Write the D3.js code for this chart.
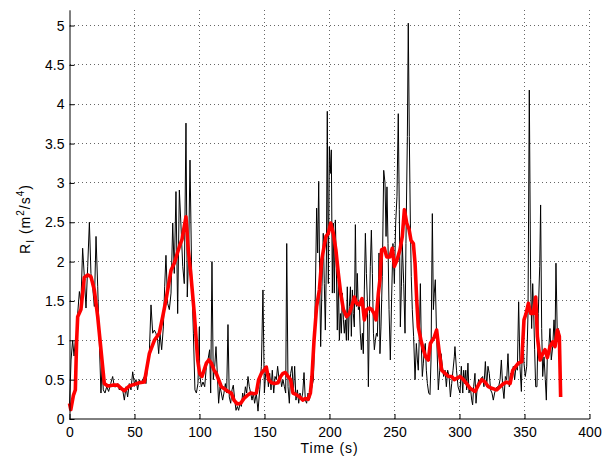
<!DOCTYPE html>
<html><head><meta charset="utf-8">
<script src="https://cdn.jsdelivr.net/npm/d3@7"></script>
<style>
body{margin:0;background:#fff}
text{font-family:"Liberation Sans",Arial,Helvetica,sans-serif;fill:#000}
</style>
</head><body>
<svg id="chart" width="605" height="457"></svg>
<script>
// ---- data ----
const xTicks = [0, 50, 100, 150, 200, 250, 300, 350, 400];
const yTicks = [0, 0.5, 1, 1.5, 2, 2.5, 3, 3.5, 4, 4.5, 5];
const xLabel = "Time (s)";

// raw signal: [time (s), R_I]
const rawSignal = [
[0,0.16],[1.2,0.75],[2.4,1.0],[3.5,0.8],[4.5,1.0],[5.4,0.9],[6.3,1.34],[7.6,1.62],[8.8,1.47],[10.1,2.17],[11.4,1.81],[12.7,1.41],[14.0,1.94],[15.3,2.5],[16.5,1.85],[17.8,1.68],[19.1,1.43],[20.4,2.32],[21.7,1.68],[22.9,1.0],[24.2,0.33],[25.0,0.67],[26.0,0.37],[27.3,0.33],[28.6,0.41],[30.1,0.35],[31.7,0.45],[33.2,0.54],[34.5,0.41],[35.8,0.41],[37.1,0.45],[38.3,0.37],[39.6,0.41],[40.9,0.37],[42.2,0.24],[43.5,0.41],[44.7,0.28],[46.0,0.45],[47.3,0.37],[48.6,0.6],[49.9,0.45],[51.2,0.5],[52.4,0.37],[53.7,0.5],[55.0,0.45],[56.3,0.5],[57.6,0.54],[58.8,0.45],[60.1,0.67],[61.4,0.83],[62.7,1.45],[64.0,1.09],[65.3,1.13],[66.5,1.09],[67.8,1.0],[68.6,0.83],[69.6,1.09],[70.9,0.88],[72.2,1.17],[73.2,1.68],[74.2,2.08],[75.5,1.47],[76.8,1.39],[78.1,1.6],[79.4,2.49],[80.6,1.85],[81.9,2.89],[83.2,1.34],[84.5,2.91],[85.8,2.44],[87.1,1.94],[88.3,1.72],[89.6,3.76],[90.6,1.55],[91.7,2.15],[92.7,3.29],[94.0,1.81],[95.3,1.09],[96.5,0.37],[97.6,0.33],[98.8,0.45],[99.9,1.17],
[100.1,0.58],[101.4,0.41],[102.7,0.47],[104.0,0.41],[105.3,0.67],[106.5,0.75],[107.8,0.88],[108.6,0.33],[109.6,2.0],[110.6,0.5],[111.7,0.67],[112.7,0.92],[113.7,0.58],[114.7,0.2],[115.8,0.41],[116.8,0.33],[117.8,0.24],[118.8,0.33],[119.9,0.45],[120.9,0.33],[121.9,1.2],[122.9,0.28],[124.0,0.2],[125.0,0.37],[126.0,0.43],[127.1,0.24],[128.1,0.11],[129.1,0.16],[130.1,0.11],[131.2,0.2],[132.2,0.16],[133.2,0.33],[134.2,0.24],[135.3,0.41],[136.3,0.33],[137.3,0.54],[138.3,0.41],[139.4,0.33],[140.4,0.24],[141.4,0.33],[142.4,0.2],[143.7,0.33],[145.0,0.1],[146.3,0.37],[147.6,0.67],[148.8,1.64],[149.9,0.33],[150.9,0.58],[151.9,0.67],[153.0,0.41],[154.0,0.58],[155.0,0.37],[156.0,0.62],[157.1,0.33],[158.1,0.54],[159.1,0.5],[160.1,0.67],[161.2,0.5],[162.2,0.54],[163.2,0.41],[164.2,0.5],[165.3,0.41],[166.3,0.33],[167.1,2.23],[168.1,0.41],[169.1,0.2],[170.1,0.58],[171.2,0.67],[172.2,0.33],[173.2,0.67],[174.2,0.24],[175.3,0.37],[176.3,0.2],[177.3,0.33],[178.3,0.24],[179.4,0.33],[180.4,0.59],[181.4,0.24],[182.4,0.2],[183.5,0.33],[184.5,0.24],[185.5,0.33],[186.5,0.41],[187.6,0.5],
[188.6,1.09],[189.6,2.11],[190.1,2.68],[190.9,2.11],[191.7,3.02],[192.5,1.68],[193.2,0.92],[194.2,1.68],[195.2,2.36],[196.0,1.72],[196.8,1.13],[197.6,2.02],[198.3,3.91],[199.1,1.72],[199.9,3.46],[200.6,3.12],[201.4,3.42],[202.2,1.6],[202.9,2.49],[203.7,1.6],[204.5,2.53],[205.2,2.02],[206.0,1.13],[206.8,1.77],[207.6,1.0],[208.4,1.34],[209.1,1.09],[209.9,1.6],[210.7,1.26],[211.4,1.09],[212.2,1.26],[213.0,1.0],[213.7,1.68],[214.5,1.0],[215.3,1.43],[216.1,1.68],[216.8,1.05],[217.6,1.64],[218.3,1.34],[219.1,1.17],[219.9,2.47],[220.7,1.43],[221.4,1.85],[222.2,1.39],[223.0,1.43],[223.7,1.09],[224.5,0.88],[225.3,1.09],[226.0,0.83],[226.8,1.64],[227.6,2.36],[228.4,1.85],[229.1,1.51],[229.9,0.41],[230.7,1.34],[231.4,1.94],[232.2,2.4],[233.0,1.85],[233.8,1.09],[234.5,0.88],[235.3,1.0],[236.1,1.09],[236.8,1.05],[237.6,1.51],
[238.1,2.11],[238.8,0.83],[239.6,1.17],[240.6,1.81],[241.7,3.16],[242.7,3.0],[243.5,2.32],[244.2,2.95],[245.0,2.23],[245.8,1.39],[246.8,0.75],[247.8,1.55],[248.8,2.23],[249.9,1.72],[250.9,2.49],[251.9,2.83],[252.9,3.88],[253.7,2.66],[254.5,1.17],[255.3,1.68],[256.0,2.23],[257.1,1.72],[258.1,1.09],[258.8,2.23],[259.9,3.59],[260.6,5.03],[261.4,3.59],[262.2,2.49],[262.9,1.81],[263.7,1.39],[264.7,1.05],[265.8,0.5],[266.8,0.96],[267.6,0.75],[268.3,0.62],[269.1,1.05],[269.9,1.72],[270.6,0.96],[271.4,0.54],[272.2,0.71],[272.9,0.88],[273.7,0.96],[274.5,0.62],[275.3,0.45],[276.3,0.33],[277.3,0.31],[278.1,0.75],[279.1,2.61],[279.9,1.39],[280.6,1.6],[281.4,1.77],[282.2,1.17],[283.0,0.75],[283.7,0.37],[284.8,0.62],[285.8,0.83],[286.8,0.67],[287.8,0.54],[288.9,0.62],[289.9,0.41],[290.9,0.62],[292.0,0.54],[293.0,0.28],[294.0,0.45],[295.0,0.62],[296.0,0.79],[296.5,0.92],[297.7,0.62],[298.9,0.41],
[300.4,0.33],[301.4,0.67],[302.5,0.33],[303.2,0.62],[304.0,0.45],[304.8,0.62],[305.5,0.37],[306.5,0.71],[307.3,0.33],[308.3,0.41],[309.4,0.24],[310.1,0.18],[310.9,0.41],[311.9,0.58],[312.7,0.2],[313.7,0.41],[314.8,0.5],[315.8,0.47],[316.8,0.52],[317.8,0.54],[318.8,0.41],[319.9,0.73],[320.9,0.41],[321.9,0.67],[322.9,0.58],[323.9,0.37],[325.0,0.33],[326.0,0.24],[327.0,0.33],[328.1,0.39],[329.1,0.41],[330.1,0.41],[331.2,0.5],[332.2,0.75],[333.2,0.41],[334.2,0.26],[335.3,0.54],[336.3,0.5],[337.3,0.83],[338.3,0.41],[339.4,0.58],[340.4,0.54],[341.4,0.67],[342.4,0.5],[343.5,0.67],[344.5,0.62],[345.5,1.49],[346.5,0.67],[347.6,0.35],[348.6,1.19],[349.6,0.71],[350.6,0.54],[351.7,0.67],[352.7,1.34],[353.7,4.18],[354.7,1.77],[355.5,1.15],[356.3,1.72],[357.1,1.34],[357.8,0.88],[358.6,0.41],[359.6,0.41],[360.6,1.34],[361.7,1.94],[362.4,2.72],[363.2,1.15],[364.0,0.54],[365.0,0.79],[366.0,0.5],[366.8,0.24],[367.6,0.83],[368.6,0.88],[369.6,1.15],[370.6,0.75],[371.7,0.92],[372.7,1.26],[373.5,1.0],[374.2,1.98],[375.3,1.0],[376.0,1.15],[376.8,1.09],[377.6,0.58]
];

// smoothed signal: [time (s), R_I]
const smoothSignal = [
[0,0.2],[1,0.12],[3,0.3],[4.5,0.37],[5.5,1.0],[6.3,1.3],[8.8,1.39],[11.4,1.8],[14.0,1.83],[16.5,1.81],[19.1,1.64],[21.7,1.3],[24.2,0.88],[26.8,0.45],[29.4,0.42],[33.2,0.43],[37.1,0.43],[39.6,0.39],[42.2,0.36],[46.0,0.42],[49.9,0.44],[53.7,0.46],[57.6,0.47],[61.4,0.83],[65.3,1.0],[69.1,1.09],[71.7,1.3],[74.2,1.51],[78.1,1.89],[80.6,1.98],[84.5,2.19],[86.5,2.28],[89.6,2.57],[91.4,2.15],[93.5,1.81],[96.0,1.34],[98.6,0.75],[100.1,0.58],
[101.9,0.54],[103.5,0.62],[105.3,0.71],[107.1,0.75],[109.1,0.71],[111.2,0.62],[112.9,0.58],[114.7,0.5],[116.8,0.41],[119.4,0.38],[121.9,0.35],[124.5,0.33],[126.5,0.24],[129.1,0.19],[131.7,0.2],[134.2,0.26],[136.8,0.3],[139.4,0.33],[141.9,0.32],[143.7,0.33],[145.5,0.5],[147.6,0.58],[149.6,0.62],[151.4,0.66],[153.2,0.5],[155.3,0.46],[157.8,0.45],[160.4,0.46],[162.4,0.54],[164.2,0.58],[166.0,0.59],[168.1,0.54],[170.1,0.5],[171.9,0.33],[174.5,0.31],[177.1,0.28],[179.6,0.24],[181.4,0.26],[183.5,0.25],[185.3,0.33],[186.5,0.54],
[188.1,1.0],[190.1,1.43],[192.2,1.64],[194.0,2.02],[195.8,2.19],[197.3,2.32],[199.1,2.36],[200.9,2.49],[202.9,2.36],[204.9,2.15],[206.8,1.85],[208.6,1.6],[210.7,1.39],[213.2,1.3],[215.2,1.34],[217.1,1.43],[219.1,1.55],[220.9,1.47],[223.0,1.45],[225.0,1.53],[226.8,1.26],[228.6,1.39],[230.7,1.41],[232.5,1.39],[234.3,1.34],[235.8,1.26],[237.6,1.6],[238.8,1.77],
[240.1,2.15],[242.2,2.17],[244.0,2.06],[246.5,2.06],[248.3,2.17],[249.9,1.94],[251.9,2.02],[254.2,2.15],[256.0,2.32],[257.6,2.66],[259.4,2.49],[261.2,2.41],[262.7,2.27],[264.5,2.23],[265.8,1.98],[267.1,1.51],[268.3,1.17],[270.4,1.0],[272.2,0.88],[274.0,0.79],[276.0,0.75],[277.6,0.96],[279.1,1.0],[280.6,1.04],[282.4,1.13],[284.2,0.88],[286.3,0.62],[288.9,0.58],[291.5,0.54],[294.0,0.54],[296.0,0.5],
[300.4,0.54],[303.0,0.5],[305.5,0.45],[308.1,0.39],[312.0,0.35],[314.5,0.43],[317.1,0.5],[319.6,0.47],[322.2,0.41],[324.8,0.39],[328.6,0.37],[331.2,0.41],[333.8,0.45],[336.3,0.47],[338.9,0.45],[341.0,0.62],[342.8,0.66],[345.3,0.71],[347.9,0.73],[349.6,1.26],[351.2,1.34],[353.0,1.47],[354.8,1.34],[356.8,1.34],[358.6,1.55],[359.9,1.05],[362.0,0.75],[364.0,0.83],[365.8,0.88],[367.6,0.78],[369.6,0.92],[371.7,0.98],[373.5,0.92],[375.3,1.13],[376.8,1.05],[377.8,0.28]
];

// ---- drawing ----
const svg = d3.select("#chart");
const x = d3.scaleLinear().domain([0, 400]).range([69.5, 589.5]);
const y = d3.scaleLinear().domain([0, 5.2]).range([419, 9.8]);

// grid
const grid = svg.append("g").attr("stroke", "#666").attr("stroke-width", 1)
  .attr("stroke-dasharray", "1,3").attr("shape-rendering", "crispEdges");
grid.selectAll("line.v").data(xTicks.filter(d => d > 0)).join("line")
  .attr("x1", d => x(d)).attr("x2", d => x(d))
  .attr("y1", y(0)).attr("y2", y(5.2));
grid.selectAll("line.h").data(yTicks.filter(d => d > 0)).join("line")
  .attr("x1", x(0)).attr("x2", x(400))
  .attr("y1", d => y(d)).attr("y2", d => y(d));

// lines
const line = d3.line().x(d => x(d[0])).y(d => y(d[1]));
svg.append("path").datum(rawSignal).attr("d", line)
  .attr("fill", "none").attr("stroke", "#000").attr("stroke-width", 1).attr("stroke-linejoin", "round");
svg.append("path").datum(smoothSignal).attr("d", line)
  .attr("fill", "none").attr("stroke", "#ff0000").attr("stroke-width", 3.6)
  .attr("stroke-linejoin", "round").attr("stroke-linecap", "butt");

// axes
const fmt = d => String(d);
const xAxis = d3.axisBottom(x).tickValues(xTicks).tickFormat(fmt)
  .tickSizeInner(-5).tickSizeOuter(0).tickPadding(8);
const yAxis = d3.axisLeft(y).tickValues(yTicks).tickFormat(fmt)
  .tickSizeInner(-5).tickSizeOuter(0).tickPadding(5);
const gx = svg.append("g").attr("transform", `translate(0,${y(0)})`).call(xAxis);
const gy = svg.append("g").attr("transform", `translate(${x(0)},0)`).call(yAxis);
[gx, gy].forEach(g => {
  g.selectAll("text").attr("font-size", 14).attr("font-family", '"Liberation Sans",Arial,sans-serif').attr("fill", "#000");
  g.selectAll("line").attr("stroke", "#000");
  g.select(".domain").attr("stroke", "#000");
  g.attr("font-family", null).attr("font-size", null);
});
gx.select(".domain").attr("d", `M${x(0)},0.5H${x(400)}`).attr("transform", "translate(0,-0.5)");

// axis titles
svg.append("text").attr("x", 329.5).attr("y", 452.5).attr("text-anchor", "middle")
  .attr("font-size", 14).attr("letter-spacing", 0.9).text(xLabel);

const yt = svg.append("text").attr("transform", "translate(29.5,219) rotate(-90)")
  .attr("text-anchor", "middle").attr("font-size", 14).attr("letter-spacing", 1);
yt.append("tspan").text("R");
yt.append("tspan").attr("font-size", 10).attr("dy", 4).text("I");
yt.append("tspan").attr("dy", -4).text(" (m");
yt.append("tspan").attr("font-size", 10).attr("dy", -6).text("2");
yt.append("tspan").attr("dy", 6).text("/s");
yt.append("tspan").attr("font-size", 10).attr("dy", -6).text("4");
yt.append("tspan").attr("dy", 6).text(")");
</script>
</body></html>
